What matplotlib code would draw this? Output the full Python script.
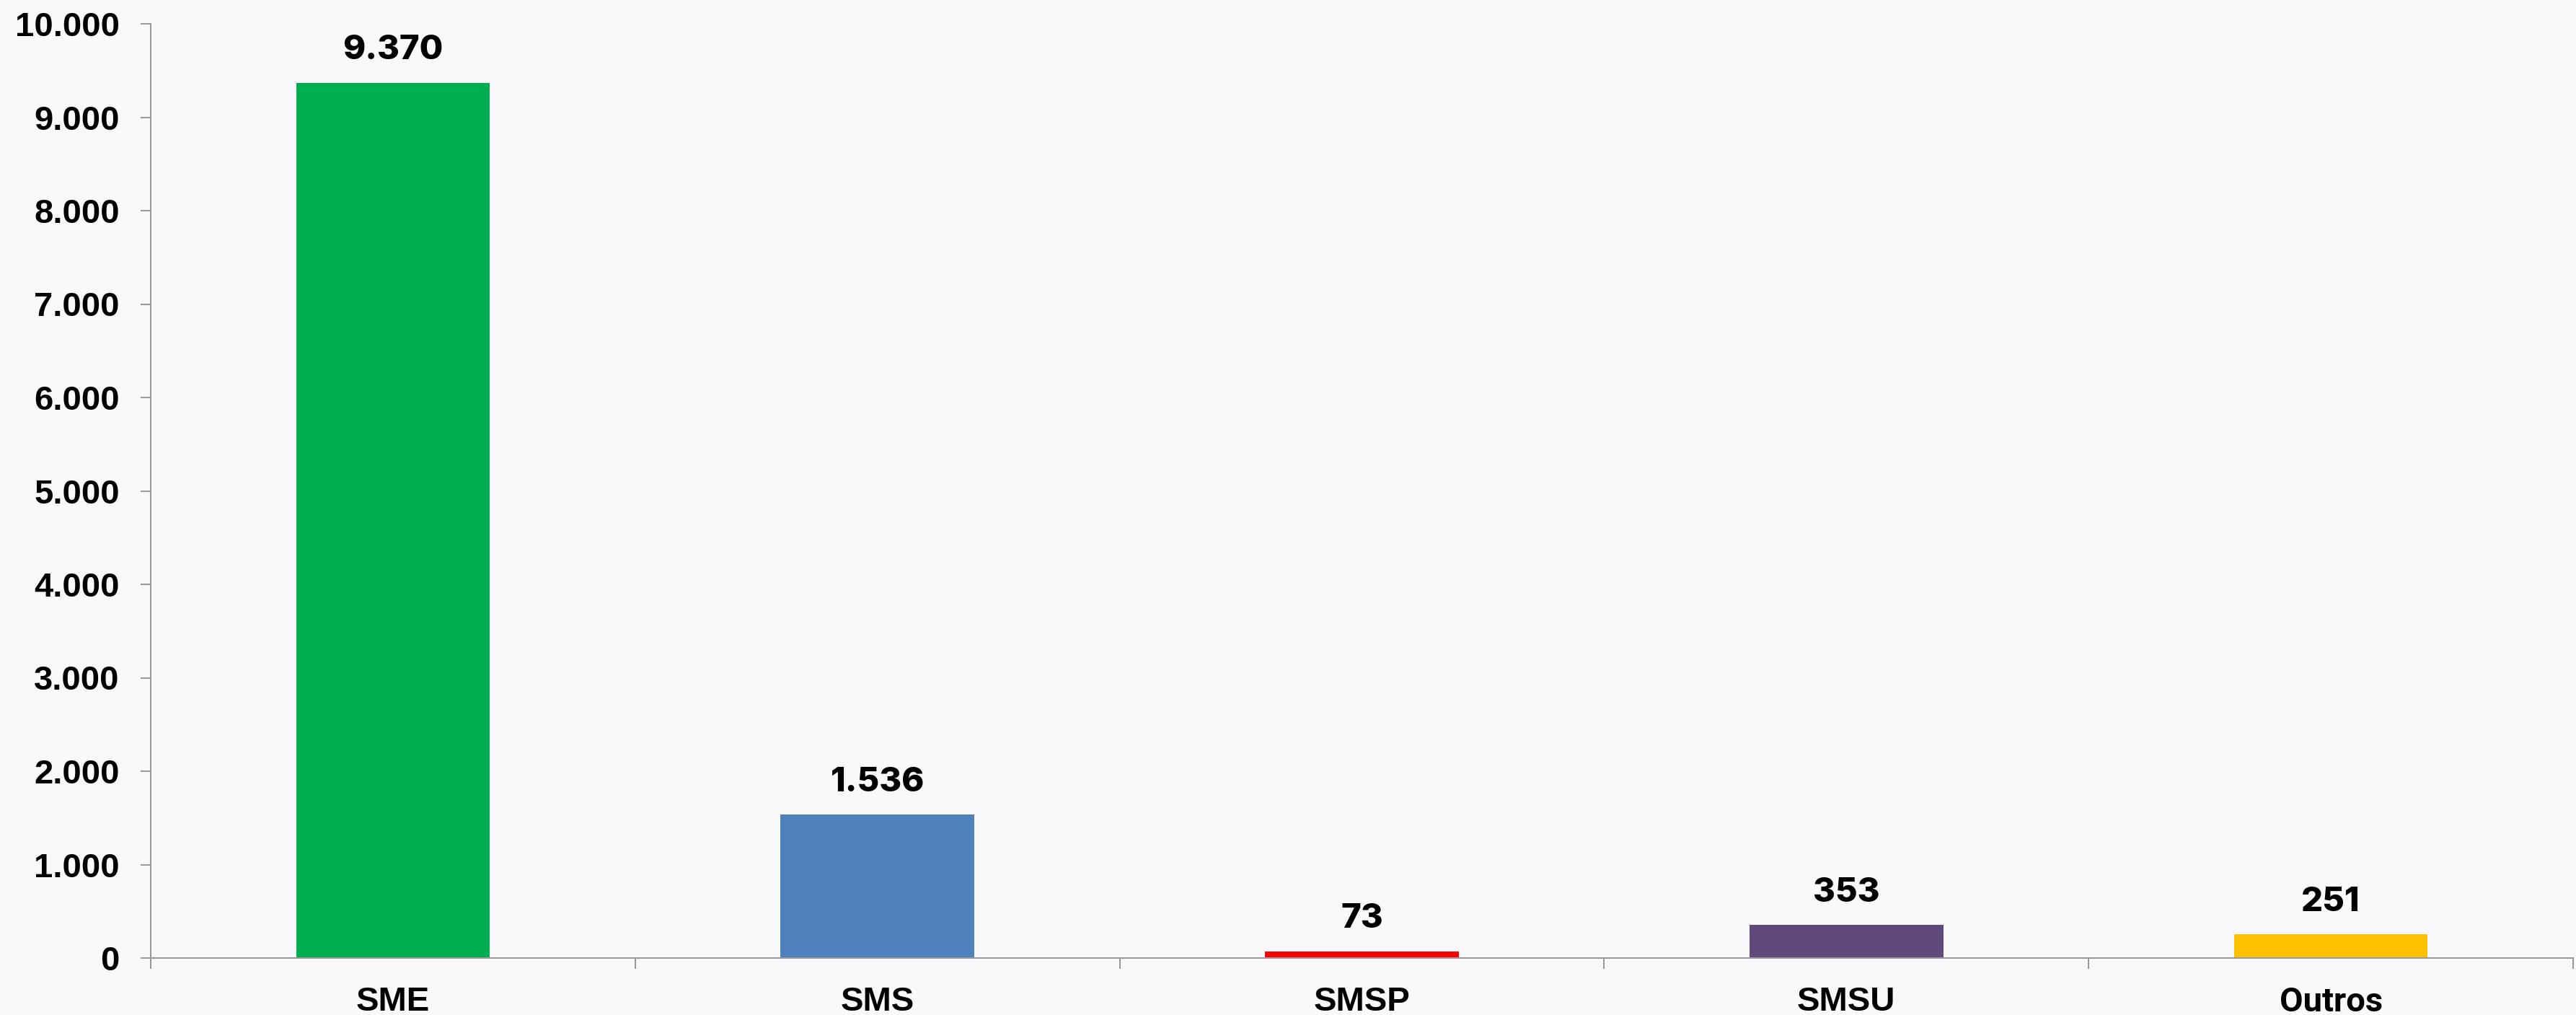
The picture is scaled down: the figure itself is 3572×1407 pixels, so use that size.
import matplotlib
matplotlib.use('Agg')
import matplotlib.pyplot as plt
import numpy as np
from matplotlib.ticker import FuncFormatter, FixedLocator

categorias = ['SME', 'SMS', 'SMSP', 'SMSU', 'Outros']
valores = [9370, 1536, 73, 353, 251]
cores = ['#00B050', '#4F81BD', '#FF0000', '#604A7B', '#FFC000']
yticks = list(range(0, 10001, 1000))


def milhar(v, pos=None):
    return f'{int(v):,}'.replace(',', '.')


fundo = '#f9f9fb'
fig = plt.figure(figsize=(35.72, 14.07), dpi=100)
fig.patch.set_facecolor(fundo)
ax = fig.add_axes([209 / 3572, 79 / 1407, (3568 - 209) / 3572, (1328 - 33) / 1407])
ax.set_facecolor(fundo)

x = np.arange(len(categorias))
ax.bar(x, valores, width=0.4, color=cores, zorder=2)

# rótulos de valor acima das barras
for xi, v in zip(x, valores):
    ax.annotate(milhar(v), (xi, v), xytext=(0, 16), textcoords='offset points',
                ha='center', va='bottom', fontsize=34, fontweight='heavy',
                family=['Inter', 'DejaVu Sans'], color='black')

ax.set_xlim(-0.5, len(categorias) - 0.5)
ax.set_ylim(0, 10000)
ax.yaxis.set_major_locator(FixedLocator(yticks))
ax.yaxis.set_major_formatter(FuncFormatter(milhar))

ax.set_xticks(x)
ax.set_xticklabels(categorias)
ax.xaxis.set_minor_locator(FixedLocator(np.arange(-0.5, len(categorias), 1.0)))
ax.tick_params(axis='x', which='major', length=0, pad=28)
ax.tick_params(axis='x', which='minor', length=11, width=1.5, color='#9a9a9a', direction='out')
ax.tick_params(axis='y', which='major', length=10, width=1.5, color='#9a9a9a', direction='out', pad=21)

for lab in ax.get_yticklabels():
    lab.set_family(['Liberation Sans Narrow', 'Liberation Sans', 'DejaVu Sans'])
    lab.set_fontweight('bold')
    lab.set_fontsize(34)
for lab in ax.get_xticklabels():
    if lab.get_text() == 'Outros':
        lab.set_family(['Roboto', 'DejaVu Sans'])
    else:
        lab.set_family(['Liberation Sans Narrow', 'Liberation Sans', 'DejaVu Sans'])
    lab.set_fontweight('bold')
    lab.set_fontsize(34)

for s in ['top', 'right']:
    ax.spines[s].set_visible(False)
for s in ['left', 'bottom']:
    ax.spines[s].set_color('#9a9a9a')
    ax.spines[s].set_linewidth(1.5)

fig.savefig('out.png', dpi=100, facecolor=fig.get_facecolor())
